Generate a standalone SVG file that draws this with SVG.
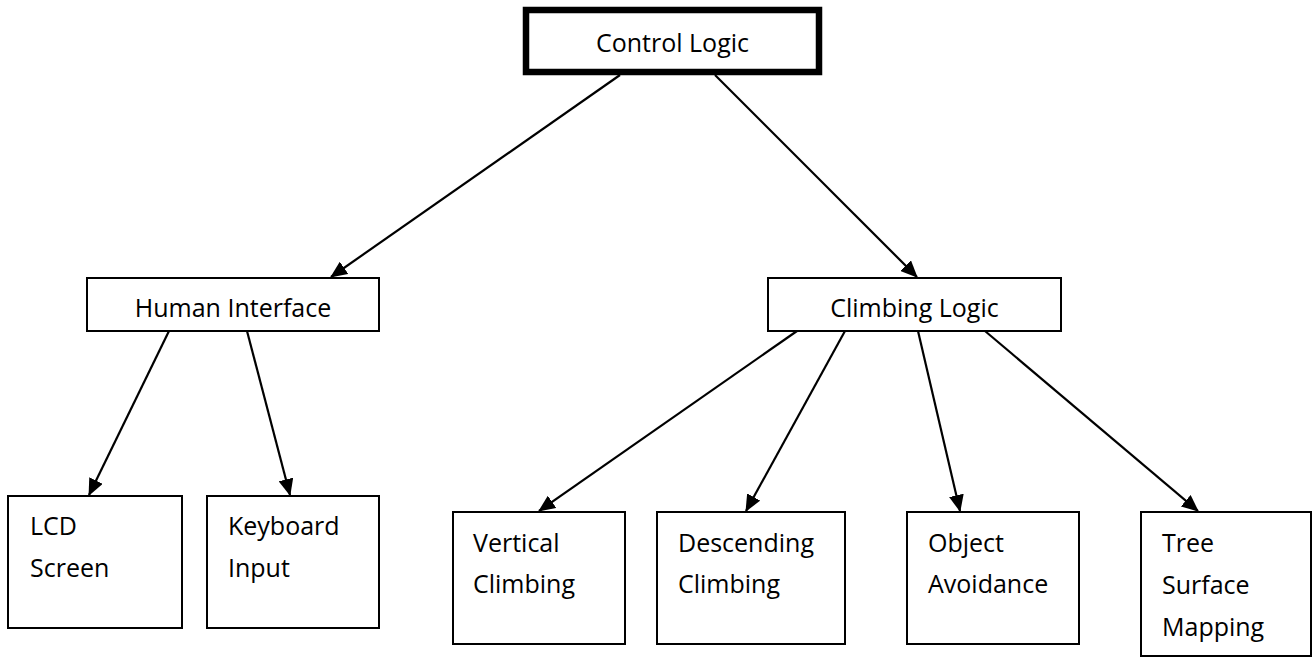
<svg xmlns="http://www.w3.org/2000/svg" width="1314" height="658" viewBox="0 0 1314 658">
<defs>
<style>
.box{fill:#fff;stroke:#000;stroke-width:2}
.top{fill:#fff;stroke:#000;stroke-width:6.5}
.t{font-family:"Open Sans","Liberation Sans",sans-serif;font-size:25px;fill:#000}
.c{text-anchor:middle}
.e{stroke:#000;stroke-width:2.2;fill:none;marker-end:url(#ah)}
</style>
<marker id="ah" markerUnits="userSpaceOnUse" markerWidth="17" markerHeight="15" refX="16" refY="7.5" orient="auto">
<path d="M0,0 L17,7.5 L0,15 z" fill="#000"/>
</marker>
</defs>
<rect width="1314" height="658" fill="#fff"/>
<g id="connectors">
<line class="e" x1="620" y1="75" x2="331" y2="277"/>
<line class="e" x1="715" y1="75" x2="917" y2="277"/>
<line class="e" x1="169" y1="331" x2="89" y2="495"/>
<line class="e" x1="247" y1="331" x2="290" y2="495"/>
<line class="e" x1="797" y1="331" x2="539" y2="511"/>
<line class="e" x1="845" y1="331" x2="746" y2="511"/>
<line class="e" x1="918" y1="331" x2="960" y2="511"/>
<line class="e" x1="985" y1="331" x2="1198" y2="511"/>
</g>
<g id="control-logic">
<rect class="top" x="526" y="10" width="293" height="62"/>
<text class="t c" x="672.5" y="52">Control Logic</text>
</g>
<g id="human-interface">
<rect class="box" x="87" y="278" width="292" height="53"/>
<text class="t c" x="233" y="317">Human Interface</text>
</g>
<g id="climbing-logic">
<rect class="box" x="768" y="278" width="293" height="53"/>
<text class="t c" x="914.5" y="317">Climbing Logic</text>
</g>
<g id="lcd-screen">
<rect class="box" x="8" y="496" width="174" height="132"/>
<text class="t" x="30" y="535">LCD</text>
<text class="t" x="30" y="577">Screen</text>
</g>
<g id="keyboard-input">
<rect class="box" x="207" y="496" width="172" height="132"/>
<text class="t" x="228" y="535">Keyboard</text>
<text class="t" x="228" y="577">Input</text>
</g>
<g id="vertical-climbing">
<rect class="box" x="453" y="512" width="172" height="132"/>
<text class="t" x="473" y="552">Vertical</text>
<text class="t" x="473" y="593">Climbing</text>
</g>
<g id="descending-climbing">
<rect class="box" x="657" y="512" width="188" height="132"/>
<text class="t" x="678" y="552">Descending</text>
<text class="t" x="678" y="593">Climbing</text>
</g>
<g id="object-avoidance">
<rect class="box" x="907" y="512" width="172" height="132"/>
<text class="t" x="928" y="552">Object</text>
<text class="t" x="928" y="593">Avoidance</text>
</g>
<g id="tree-surface-mapping">
<rect class="box" x="1141" y="512" width="170" height="144"/>
<text class="t" x="1162" y="552">Tree</text>
<text class="t" x="1162" y="594">Surface</text>
<text class="t" x="1162" y="636">Mapping</text>
</g>
</svg>
